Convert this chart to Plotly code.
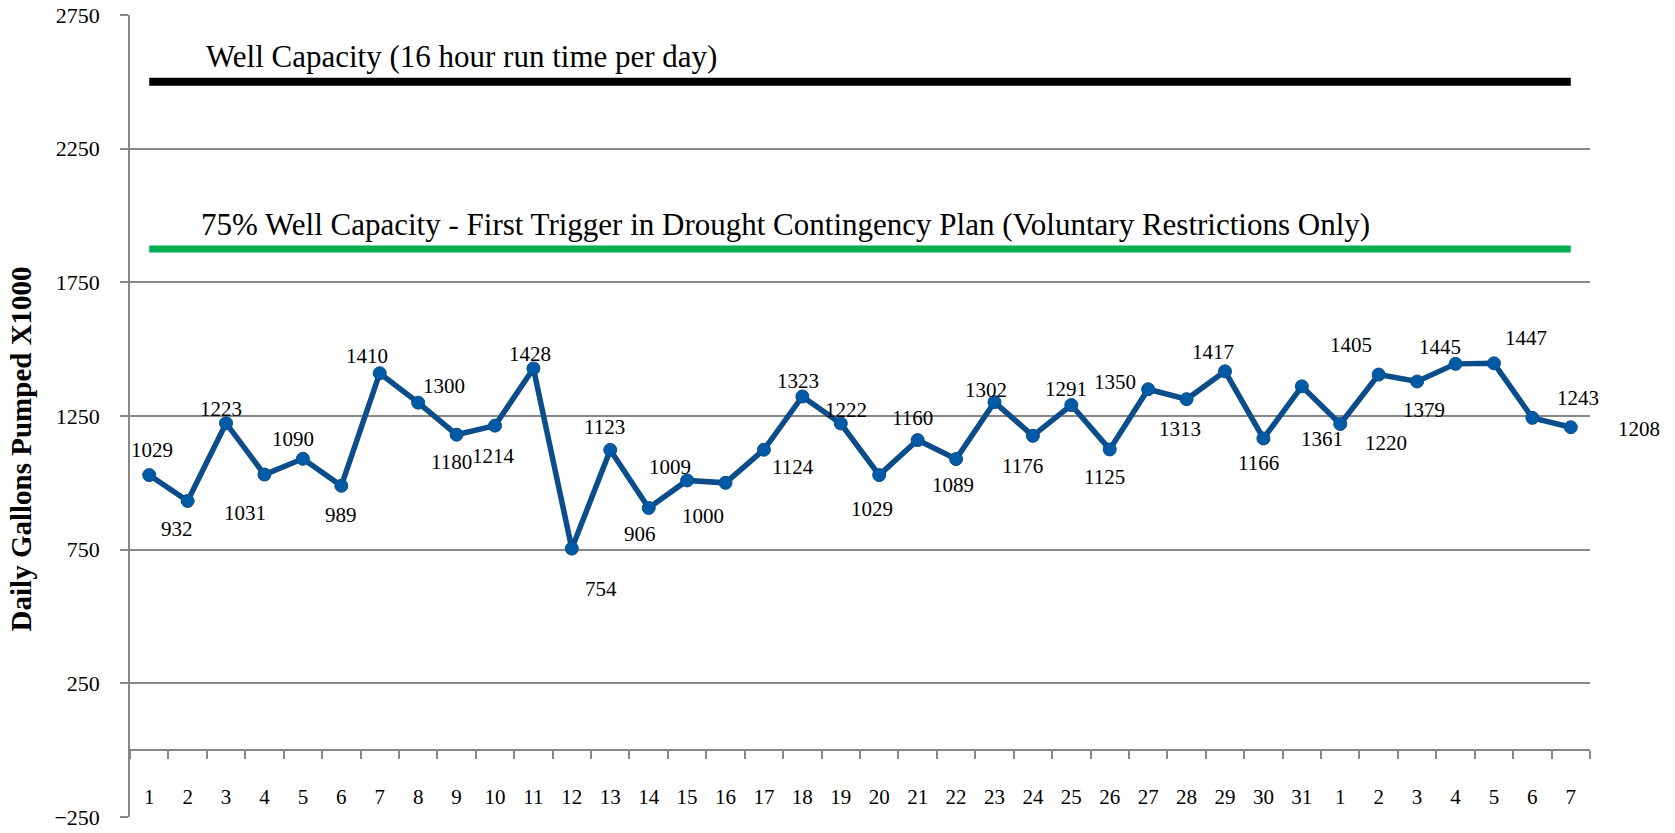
import plotly.graph_objects as go

# ---- data ----
day_labels = [str(d) for d in range(1, 32)] + [str(d) for d in range(1, 8)]
gallons_pumped = [1029, 932, 1223, 1031, 1090, 989, 1410, 1300, 1180, 1214,
                  1428, 754, 1123, 906, 1009, 1000, 1124, 1323, 1222, 1029,
                  1160, 1089, 1302, 1176, 1291, 1125, 1350, 1313, 1417, 1166,
                  1361, 1220, 1405, 1379, 1445, 1447, 1243, 1208]
well_capacity = 2500
trigger_capacity = 1875
capacity_label = "Well Capacity (16 hour run time per day)"
trigger_label = "75% Well Capacity - First Trigger in Drought Contingency Plan (Voluntary Restrictions Only)"
y_title = "Daily Gallons Pumped X1000"
y_ticks = [-250, 250, 750, 1250, 1750, 2250, 2750]

# ---- style: data-label offsets in pixels (dx right, dy down) ----
label_offsets = [(3, -25), (-11, 28), (-5, -14), (-19, 38), (-10, -20), (0, 29),
                 (-13, -17), (26, -17), (-5, 27), (-2, 30), (-3, -14), (29, 40),
                 (-6, -23), (-9, 26), (-17, -13), (-23, 33), (29, 17), (-4, -15),
                 (5, -13), (-7, 34), (-5, -22), (-3, 26), (-8, -12), (-10, 30),
                 (-5, -16), (-5, 28), (-33, -7), (-7, 30), (-12, -19), (-5, 25),
                 (20, 53), (46, 19), (-28, -30), (7, 28), (-16, -17), (32, -25),
                 (46, -20), (68, 2)]

FONT = "Liberation Serif"
GRID = "#878787"
n = len(day_labels)
xs = list(range(1, n + 1))

fig = go.Figure()
fig.add_trace(go.Scatter(x=xs, y=[well_capacity] * n, mode="lines",
                         line=dict(color="#000000", width=8), hoverinfo="skip"))
fig.add_trace(go.Scatter(x=xs, y=[trigger_capacity] * n, mode="lines",
                         line=dict(color="#00B050", width=7), hoverinfo="skip"))
fig.add_trace(go.Scatter(x=xs, y=gallons_pumped, mode="lines+markers",
                         line=dict(color="#0A4D8A", width=5.5),
                         marker=dict(size=13, color="#005BA6",
                                     line=dict(color="#0A4D8A", width=1))))

annotations = []
for x, v, (dx, dy) in zip(xs, gallons_pumped, label_offsets):
    annotations.append(dict(x=x, y=v, xref="x", yref="y", text=str(v),
                            showarrow=False, xshift=dx, yshift=-dy,
                            font=dict(family=FONT, size=21, color="black")))

annotations.append(dict(x=1, y=well_capacity, xref="x", yref="y", text=capacity_label,
                        showarrow=False, xanchor="left", yanchor="bottom",
                        xshift=55, yshift=6,
                        font=dict(family=FONT, size=31, color="black")))
annotations.append(dict(x=1, y=trigger_capacity, xref="x", yref="y", text=trigger_label,
                        showarrow=False, xanchor="left", yanchor="bottom",
                        xshift=50, yshift=5,
                        font=dict(family=FONT, size=31, color="black")))
annotations.append(dict(x=-0.075, y=0.459, xref="paper", yref="paper",
                        text="<b>" + y_title + "</b>", textangle=-90,
                        showarrow=False, xanchor="center", yanchor="middle",
                        font=dict(family=FONT, size=29, color="black")))

fig.update_layout(
    width=1675, height=833,
    margin=dict(l=130, r=85, t=15, b=16),
    plot_bgcolor="white", paper_bgcolor="white",
    showlegend=False,
    font=dict(family=FONT, color="black"),
    annotations=annotations,
    xaxis=dict(range=[0.5, n + 0.5], anchor="free", automargin=False,
               position=(0 - y_ticks[0]) / (y_ticks[-1] - y_ticks[0]),
               showline=True, linecolor=GRID, linewidth=1.5,
               showgrid=False, zeroline=False,
               tickmode="array", tickvals=xs, ticktext=day_labels,
               ticks="", ticklabelstandoff=28,
               tickfont=dict(family=FONT, size=21, color="black"),
               minor=dict(tickvals=[i + 0.5 for i in range(0, n + 1)],
                          ticks="outside", ticklen=8, tickwidth=1.5,
                          tickcolor=GRID, showgrid=False)),
    yaxis=dict(range=[y_ticks[0], y_ticks[-1]], tickmode="array", tickvals=y_ticks,
               automargin=False,
               showgrid=True, gridcolor=GRID, gridwidth=1.5,
               showline=True, linecolor=GRID, linewidth=1.5,
               ticks="outside", ticklen=8, tickwidth=1.5, tickcolor=GRID,
               zeroline=False, ticklabelstandoff=16,
               tickfont=dict(family=FONT, size=22, color="black")),
)

fig.write_html("out.html",
               config={"displayModeBar": False},
               post_script="document.body.style.margin='0px';"
                           "document.documentElement.style.overflow='hidden';")
